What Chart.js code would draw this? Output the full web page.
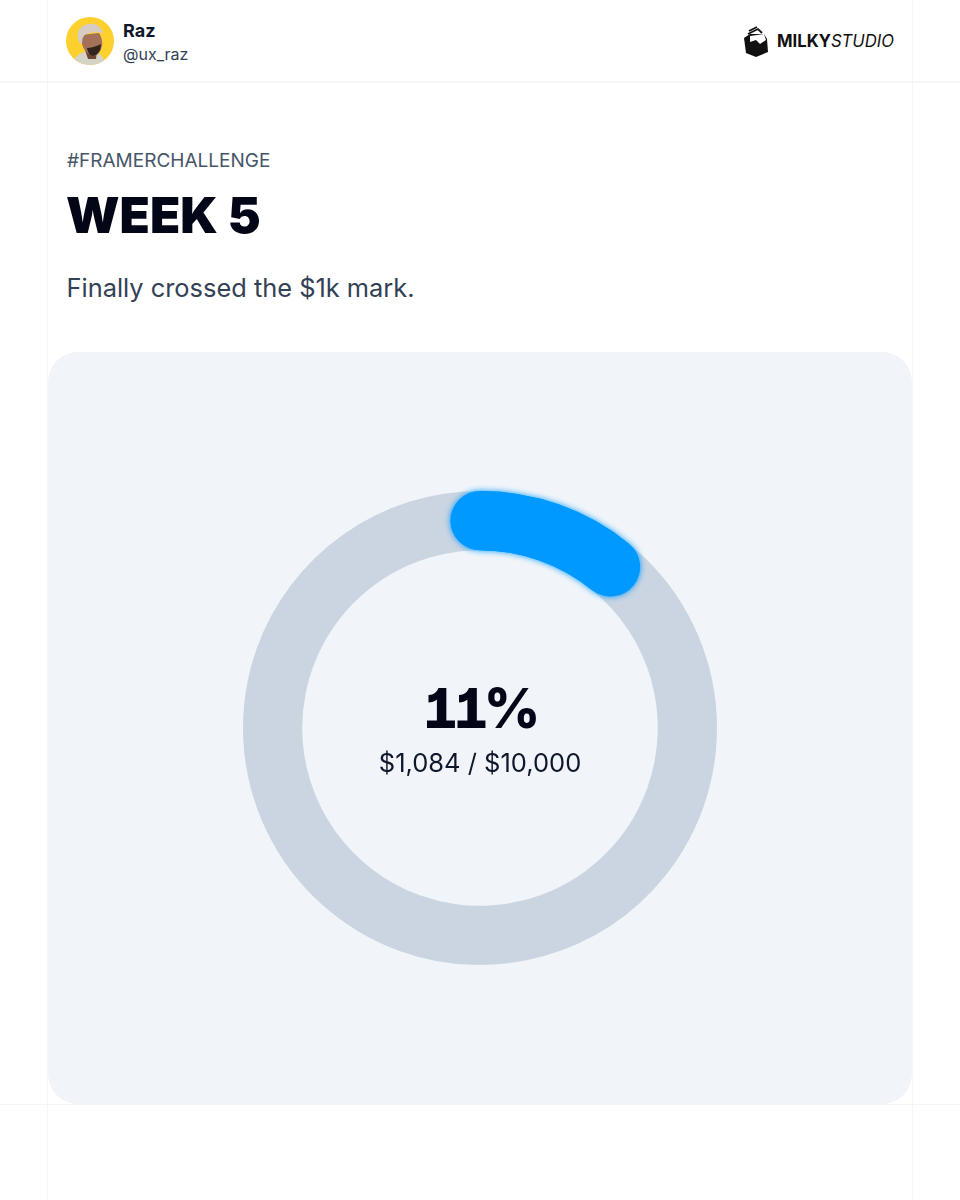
<!DOCTYPE html>
<html>
<head>
<meta charset="utf-8">
<title>Week 5</title>
<script src="https://cdn.jsdelivr.net/npm/chart.js@4"></script>
<style>
  html, body { margin: 0; padding: 0; background: #fff; }
  body { width: 960px; height: 1200px; position: relative; overflow: hidden; font-family: Inter, "Noto Sans", sans-serif; }
  .line { position: absolute; background: #f3f5f8; }
  .txt { position: absolute; white-space: nowrap; line-height: 1; }
  #panel { position: absolute; left: 48px; top: 352px; width: 864px; height: 752px; background: #f1f5f9; border-radius: 30px; }
  #panel canvas { position: absolute; left: 0; top: 0; }
  #pct span { display: inline-block; margin-right: -5px; }
</style>
</head>
<body>
<div class="line" style="left:47px;top:0;width:1px;height:1200px"></div>
<div class="line" style="left:912px;top:0;width:1px;height:1200px"></div>
<div class="line" style="left:0;top:81px;width:960px;height:2px"></div>
<div class="line" style="left:0;top:1104px;width:960px;height:1px"></div>

<!-- avatar -->
<svg style="position:absolute;left:66px;top:17px" width="48" height="48" viewBox="0 0 48 48">
  <defs><clipPath id="av"><circle cx="24" cy="24" r="24"/></clipPath></defs>
  <g clip-path="url(#av)">
    <rect width="48" height="48" fill="#fdd02e"/>
    <path d="M7 48 Q8 38 18 35 L31 36 Q38 38 39 48 Z" fill="#d5d3c8"/>
    <path d="M19 33 L31 33 L30 42 L22 42 Z" fill="#6e4634"/>
    <path d="M15 18 L33 16 Q37 22 36 29 Q34 39 26 39 Q18 35 16 27 Z" fill="#a4705a"/>
    <path d="M21 31 Q27 31 35 27 Q35 37 27 39 Q22 38 21 31 Z" fill="#33241f"/>
    <path d="M13 25 Q8 13 19 8 Q30 4 35 12 L38 16 Q28 14 20 17 Q16 19 16 27 Z" fill="#d6ccc4"/>
  </g>
</svg>
<div class="txt" style="left:123px;top:22px;font-size:18px;font-weight:700;color:#0f172a">Raz</div>
<div class="txt" style="left:123px;top:46px;font-size:16px;color:#334155">@ux_raz</div>

<!-- logo -->
<svg style="position:absolute;left:742px;top:25px" width="28" height="33" viewBox="0 0 28 33">
  <path d="M2 13 L8 9 L22 9 L25 14 L26 27 L14 32 L4 28 Z" fill="#111"/>
  <path d="M8 11 L22 9 L24 15 L18 19 L14 15 L8 17 Z" fill="#fff"/>
  <path d="M6 9 L16 4 L20 8 M7 6 L15 2" stroke="#111" stroke-width="1.8" fill="none"/>
</svg>
<div class="txt" style="left:777px;top:33px;font-size:16.7px;color:#111"><b style="font-weight:700">MILKY</b><i>STUDIO</i></div>

<div class="txt" style="left:67px;top:151px;font-size:19px;color:#475569">#FRAMERCHALLENGE</div>
<div class="txt" style="left:66px;top:191px;font-size:49.5px;font-weight:900;color:#020617">WEEK 5</div>
<div class="txt" style="left:66.5px;top:275px;font-size:25.4px;color:#334155">Finally crossed the $1k mark.</div>

<div id="panel"><canvas id="myChart" width="864" height="752"></canvas></div>

<div id="pct" class="txt" style="left:-1px;width:960px;text-align:center;top:681px;font-size:55px;font-weight:800;font-feature-settings:'cv01','tnum';color:#020617"><span>1</span><span>1</span><span>%</span></div>
<div class="txt" style="left:0;width:960px;text-align:center;top:750px;font-size:25.5px;color:#0f172a">$1,084 / $10,000</div>

<script>
var labels = ["Raised", "Remaining"];
var values = [1084, 8916];
var barColors = ["#0099ff", "#cbd5e1"];

// round ends + glow for the first slice, the doughnut itself has no caps that go past the angle
var roundCap = {
  id: "roundCap",
  afterDatasetsDraw: function (chart) {
    var arc = chart.getDatasetMeta(0).data[0];
    var c = chart.ctx;
    c.save();
    c.beginPath();
    c.arc(arc.x, arc.y, (arc.innerRadius + arc.outerRadius) / 2, arc.startAngle, arc.endAngle);
    c.lineCap = "round";
    c.lineWidth = arc.outerRadius - arc.innerRadius;
    c.strokeStyle = barColors[0];
    c.shadowColor = barColors[0];
    c.shadowBlur = 6;
    c.stroke();
    c.restore();
  }
};

new Chart("myChart", {
  type: "doughnut",
  data: {
    labels: labels,
    datasets: [{
      data: values,
      backgroundColor: barColors,
      borderWidth: 0
    }]
  },
  options: {
    responsive: false,
    animation: false,
    radius: 237,
    cutout: "75%",
    plugins: {
      legend: { display: false },
      tooltip: { enabled: false }
    }
  },
  plugins: [roundCap]
});
</script>
</body>
</html>
